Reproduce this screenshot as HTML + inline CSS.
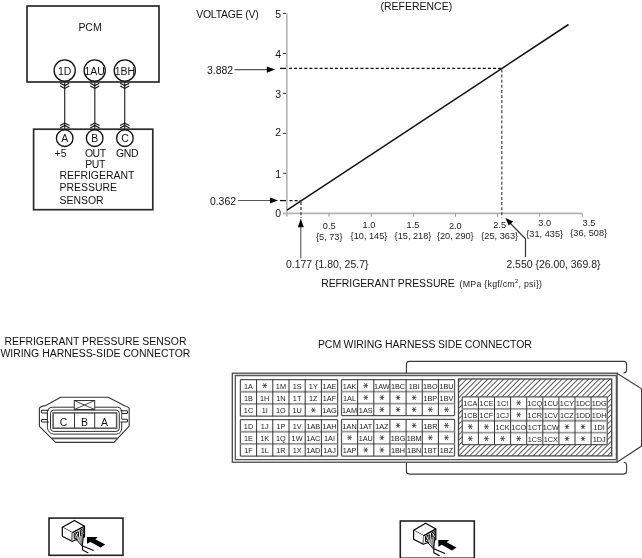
<!DOCTYPE html>
<html><head><meta charset="utf-8"><style>
html,body{margin:0;padding:0;background:#fff;}
svg{display:block;will-change:transform;}
text{font-family:"Liberation Sans",sans-serif;}
</style></head><body>
<svg width="642" height="558" viewBox="0 0 642 558">
<rect x="27" y="6" width="132" height="76" fill="none" stroke="#2b2b2b" stroke-width="1.7"/>
<text x="90" y="30.7" text-anchor="middle" font-size="10.45" fill="#111" >PCM</text>
<line x1="64.7" y1="82" x2="64.7" y2="129" stroke="#2b2b2b" stroke-width="1.2"/>
<polyline points="60.2,83.2 64.7,85.60000000000001 69.2,83.2" fill="none" stroke="#111" stroke-width="1.1"/>
<polyline points="60.2,86.0 64.7,88.4 69.2,86.0" fill="none" stroke="#111" stroke-width="1.1"/>
<polyline points="60.1,125.6 64.7,123.1 69.5,125.6" fill="none" stroke="#111" stroke-width="1.1"/>
<polyline points="60.1,127.9 64.7,125.4 69.5,127.9" fill="none" stroke="#111" stroke-width="1.1"/>
<line x1="94.8" y1="82" x2="94.8" y2="129" stroke="#2b2b2b" stroke-width="1.2"/>
<polyline points="90.3,83.2 94.8,85.60000000000001 99.3,83.2" fill="none" stroke="#111" stroke-width="1.1"/>
<polyline points="90.3,86.0 94.8,88.4 99.3,86.0" fill="none" stroke="#111" stroke-width="1.1"/>
<polyline points="90.2,125.6 94.8,123.1 99.6,125.6" fill="none" stroke="#111" stroke-width="1.1"/>
<polyline points="90.2,127.9 94.8,125.4 99.6,127.9" fill="none" stroke="#111" stroke-width="1.1"/>
<line x1="124.7" y1="82" x2="124.7" y2="129" stroke="#2b2b2b" stroke-width="1.2"/>
<polyline points="120.2,83.2 124.7,85.60000000000001 129.2,83.2" fill="none" stroke="#111" stroke-width="1.1"/>
<polyline points="120.2,86.0 124.7,88.4 129.2,86.0" fill="none" stroke="#111" stroke-width="1.1"/>
<polyline points="120.10000000000001,125.6 124.7,123.1 129.5,125.6" fill="none" stroke="#111" stroke-width="1.1"/>
<polyline points="120.10000000000001,127.9 124.7,125.4 129.5,127.9" fill="none" stroke="#111" stroke-width="1.1"/>
<circle cx="64.7" cy="70.5" r="10.6" fill="#fff" stroke="#111" stroke-width="1.3"/>
<text x="64.7" y="74.6" text-anchor="middle" font-size="10.45" fill="#111" >1D</text>
<circle cx="94.7" cy="70.5" r="10.6" fill="#fff" stroke="#111" stroke-width="1.3"/>
<text x="94.7" y="74.6" text-anchor="middle" font-size="10.45" fill="#111" >1AU</text>
<circle cx="124.8" cy="70.5" r="10.6" fill="#fff" stroke="#111" stroke-width="1.3"/>
<text x="124.8" y="74.6" text-anchor="middle" font-size="10.45" fill="#111" >1BH</text>
<rect x="33.6" y="129.2" width="119.2" height="80.5" fill="none" stroke="#2b2b2b" stroke-width="1.7"/>
<circle cx="64.7" cy="138.2" r="8.3" fill="#fff" stroke="#111" stroke-width="1.3"/>
<text x="64.7" y="141.8" text-anchor="middle" font-size="10.45" fill="#111" >A</text>
<circle cx="94.7" cy="138.2" r="8.3" fill="#fff" stroke="#111" stroke-width="1.3"/>
<text x="94.7" y="141.8" text-anchor="middle" font-size="10.45" fill="#111" >B</text>
<circle cx="124.9" cy="138.2" r="8.3" fill="#fff" stroke="#111" stroke-width="1.3"/>
<text x="124.9" y="141.8" text-anchor="middle" font-size="10.45" fill="#111" >C</text>
<text x="54.6" y="156.6" text-anchor="start" font-size="10.45" fill="#111" >+5</text>
<text x="84.9" y="157.3" text-anchor="start" font-size="10.45" fill="#111" letter-spacing="-0.45">OUT</text>
<text x="85.3" y="168.3" text-anchor="start" font-size="10.45" fill="#111" letter-spacing="-0.45">PUT</text>
<text x="116.0" y="157.0" text-anchor="start" font-size="10.45" fill="#111" letter-spacing="-0.3">GND</text>
<text x="59.5" y="178.7" text-anchor="start" font-size="10.45" fill="#111" >REFRIGERANT</text>
<text x="59.5" y="191.3" text-anchor="start" font-size="10.45" fill="#111" >PRESSURE</text>
<text x="59.5" y="204.0" text-anchor="start" font-size="10.45" fill="#111" >SENSOR</text>
<text x="196.2" y="17.9" text-anchor="start" font-size="10.45" fill="#111" letter-spacing="-0.2">VOLTAGE (V)</text>
<text x="380.5" y="9.7" text-anchor="start" font-size="10.45" fill="#111" letter-spacing="0.03">(REFERENCE)</text>
<line x1="286.8" y1="13.4" x2="286.8" y2="216.6" stroke="#b4b4b4" stroke-width="1.7"/>
<line x1="283" y1="213.3" x2="582.5" y2="213.3" stroke="#b4b4b4" stroke-width="1.7"/>
<line x1="282.8" y1="13.4" x2="286" y2="13.4" stroke="#333" stroke-width="1"/>
<text x="281" y="17.6" text-anchor="end" font-size="10.45" fill="#111" >5</text>
<line x1="282.8" y1="53.5" x2="286" y2="53.5" stroke="#333" stroke-width="1"/>
<text x="281" y="57.7" text-anchor="end" font-size="10.45" fill="#111" >4</text>
<line x1="282.8" y1="93.4" x2="286" y2="93.4" stroke="#333" stroke-width="1"/>
<text x="281" y="97.60000000000001" text-anchor="end" font-size="10.45" fill="#111" >3</text>
<line x1="282.8" y1="133.4" x2="286" y2="133.4" stroke="#333" stroke-width="1"/>
<text x="281" y="136.0" text-anchor="end" font-size="10.45" fill="#111" >2</text>
<line x1="282.8" y1="173.3" x2="286" y2="173.3" stroke="#333" stroke-width="1"/>
<text x="281" y="177.5" text-anchor="end" font-size="10.45" fill="#111" >1</text>
<text x="281" y="216.8" text-anchor="end" font-size="10.45" fill="#111" >0</text>
<line x1="329" y1="213.3" x2="329" y2="216.8" stroke="#999" stroke-width="1"/>
<line x1="371.3" y1="213.3" x2="371.3" y2="216.8" stroke="#999" stroke-width="1"/>
<line x1="413.5" y1="213.3" x2="413.5" y2="216.8" stroke="#999" stroke-width="1"/>
<line x1="455.5" y1="213.3" x2="455.5" y2="216.8" stroke="#999" stroke-width="1"/>
<line x1="497.5" y1="213.3" x2="497.5" y2="216.8" stroke="#999" stroke-width="1"/>
<line x1="539.8" y1="213.3" x2="539.8" y2="216.8" stroke="#999" stroke-width="1"/>
<line x1="582.3" y1="213.3" x2="582.3" y2="216.8" stroke="#999" stroke-width="1"/>
<text x="329.2" y="228.7" text-anchor="middle" font-size="9.2" fill="#222" >0.5</text>
<text x="329.2" y="239.7" text-anchor="middle" font-size="9.2" fill="#222" >{5, 73}</text>
<text x="369" y="228.4" text-anchor="middle" font-size="9.2" fill="#222" >1.0</text>
<text x="369" y="239.2" text-anchor="middle" font-size="9.2" fill="#222" >{10, 145}</text>
<text x="413" y="228.3" text-anchor="middle" font-size="9.2" fill="#222" >1.5</text>
<text x="413" y="239.2" text-anchor="middle" font-size="9.2" fill="#222" >{15, 218}</text>
<text x="455.3" y="228.5" text-anchor="middle" font-size="9.2" fill="#222" >2.0</text>
<text x="455.3" y="239.2" text-anchor="middle" font-size="9.2" fill="#222" >{20, 290}</text>
<text x="499.7" y="228.2" text-anchor="middle" font-size="9.2" fill="#222" >2.5</text>
<text x="499.7" y="239.0" text-anchor="middle" font-size="9.2" fill="#222" >{25, 363}</text>
<text x="544.7" y="226.2" text-anchor="middle" font-size="9.2" fill="#222" >3.0</text>
<text x="544.7" y="236.6" text-anchor="middle" font-size="9.2" fill="#222" >{31, 435}</text>
<text x="589" y="225.6" text-anchor="middle" font-size="9.2" fill="#222" >3.5</text>
<text x="588.7" y="236.2" text-anchor="middle" font-size="9.2" fill="#222" >{36, 508}</text>
<line x1="287" y1="210.1" x2="568.5" y2="24.5" stroke="#111" stroke-width="1.5"/>
<line x1="280" y1="68.4" x2="286" y2="68.4" stroke="#111" stroke-width="1.3"/>
<line x1="289" y1="68.4" x2="501" y2="68.4" stroke="#111" stroke-width="1.2" stroke-dasharray="3,2.1"/>
<line x1="501.8" y1="69.5" x2="501.8" y2="218" stroke="#444" stroke-width="1.2" stroke-dasharray="3,2.1"/>
<line x1="280" y1="200.6" x2="286" y2="200.6" stroke="#111" stroke-width="1.3"/>
<line x1="289.5" y1="200.6" x2="300.5" y2="200.6" stroke="#111" stroke-width="1.2" stroke-dasharray="3,2.1"/>
<line x1="301" y1="202" x2="301" y2="218" stroke="#333" stroke-width="1.2" stroke-dasharray="3,2.1"/>
<text x="233.1" y="73.7" text-anchor="end" font-size="10.45" fill="#111" >3.882</text>
<line x1="234.6" y1="69.6" x2="268" y2="69.6" stroke="#555" stroke-width="1.1"/>
<polygon points="266.8,66.6 275.2,69.6 266.8,72.7" fill="#000"/>
<text x="236" y="204.6" text-anchor="end" font-size="10.45" fill="#111" >0.362</text>
<line x1="238" y1="200.5" x2="271" y2="200.5" stroke="#555" stroke-width="1.1"/>
<polygon points="270,197.5 278,200.5 270,203.5" fill="#000"/>
<line x1="300.8" y1="226" x2="300.8" y2="258.6" stroke="#555" stroke-width="1.1"/>
<polygon points="300.8,218.6 303.8,227.2 297.8,227.2" fill="#000"/>
<text x="286" y="268.3" text-anchor="start" font-size="10.45" fill="#222" >0.177 {1.80, 25.7}</text>
<polyline points="525.5,257 525.5,238.8 509,222" fill="none" stroke="#333" stroke-width="1.2"/>
<polygon points="505.5,218.1 513.2,221.4 508.6,225.6" fill="#000"/>
<text x="506.4" y="267.9" text-anchor="start" font-size="10.45" fill="#222" >2.550 {26.00, 369.8}</text>
<text x="321.2" y="286.8" text-anchor="start" font-size="10.45" fill="#111" letter-spacing="-0.07">REFRIGERANT PRESSURE</text>
<text x="459.6" y="286.6" font-size="8.8" letter-spacing="0.25" fill="#222">(MPa {kgf/cm<tspan font-size="6" dy="-3.5">2</tspan><tspan dy="3.5">, psi})</tspan></text>
<text x="95.5" y="345.0" text-anchor="middle" font-size="10.45" fill="#111" >REFRIGERANT PRESSURE SENSOR</text>
<text x="95.4" y="356.8" text-anchor="middle" font-size="10.45" fill="#111" >WIRING HARNESS-SIDE CONNECTOR</text>
<text x="317.9" y="348.3" text-anchor="start" font-size="10.45" fill="#111" word-spacing="-0.4">PCM WIRING HARNESS SIDE CONNECTOR</text>
<path d="M60.6,397.2 L108.2,397.2 L124.6,405.8 Q127.5,406.4 129.2,408.2 L129.2,426.2 L114,442.4 L55.6,442.4 L39.4,426.4 L39.4,408.2 Q40.6,406 45.8,405.6 Z" fill="#fff" stroke="#333" stroke-width="1.1" stroke-linejoin="round"/>
<path d="M47.4,413 L47.4,410.6 Q48.5,407.3 52.3,407.2 L117.6,407.2 Q121.2,407.3 121.7,410.8 L121.7,413.4" fill="none" stroke="#333" stroke-width="1"/>
<path d="M47.4,419.4 L47.4,427.8 Q48.5,433.6 53.5,434.1 L116.4,434.1 Q121.2,433.6 121.7,428.8 L121.7,421.9" fill="none" stroke="#333" stroke-width="1"/>
<path d="M48.9,410.3 L42.2,410.3 Q41.3,410.3 41.3,411.6 Q41.3,412.9 42.2,412.9 L47.4,412.9" fill="none" stroke="#222" stroke-width="1.05"/>
<path d="M47.4,419.4 L42.2,419.4 Q41.3,419.4 41.3,420.7 Q41.3,422 42.2,422 L48.9,422" fill="none" stroke="#222" stroke-width="1.05"/>
<line x1="47.4" y1="412.9" x2="47.4" y2="419.4" stroke="#222" stroke-width="1.05"/>
<path d="M120.4,410.7 L126.8,410.7 Q127.6,410.7 127.6,412 Q127.6,413.4 126.8,413.4 L121.7,413.4" fill="none" stroke="#222" stroke-width="1.05"/>
<path d="M121.7,419.2 L126.8,419.2 Q127.6,419.2 127.6,420.5 Q127.6,421.9 126.8,421.9 L120.4,421.9" fill="none" stroke="#222" stroke-width="1.05"/>
<line x1="121.7" y1="413.4" x2="121.7" y2="419.2" stroke="#333" stroke-width="0.9"/>
<line x1="51.8" y1="438.4" x2="117.8" y2="438.4" stroke="#555" stroke-width="1.6"/>
<rect x="50.5" y="410.1" width="68.8" height="21.3" rx="3.2" fill="#fff" stroke="#333" stroke-width="1"/>
<rect x="53.1" y="412.9" width="63.5" height="15.3" fill="#fff" stroke="#555" stroke-width="1.5"/>
<line x1="74.5" y1="413" x2="74.5" y2="428.2" stroke="#333" stroke-width="1"/>
<line x1="94.7" y1="413" x2="94.7" y2="428.2" stroke="#333" stroke-width="1"/>
<rect x="74.3" y="400.5" width="20.4" height="9" fill="#fff" stroke="#333" stroke-width="1"/>
<path d="M74.3,400.5 L94.7,409.5 M94.7,400.5 L74.3,409.5" stroke="#333" stroke-width="0.9"/>
<text x="63.4" y="426.0" text-anchor="middle" font-size="10.45" fill="#111" >C</text>
<text x="84.4" y="426.0" text-anchor="middle" font-size="10.45" fill="#111" >B</text>
<text x="104.6" y="426.0" text-anchor="middle" font-size="10.45" fill="#111" >A</text>
<path d="M406.4,372.9 L406.4,364.4 Q406.4,361.4 409.4,361.4 L623.6,361.4 Q626.6,361.4 626.6,364.4 L626.6,370 Q626.6,372.9 623.6,372.9" fill="#fff" stroke="#3a3a3a" stroke-width="1.1"/>
<path d="M406.4,462.3 L406.4,471.1 Q406.4,474.1 409.4,474.1 L623.6,474.1 Q626.6,474.1 626.6,471.1 L626.6,465.3 Q626.6,462.3 623.6,462.3" fill="#fff" stroke="#3a3a3a" stroke-width="1.1"/>
<path d="M617,373.3 L641.6,388.8 L641.6,446 L617,462.2" fill="#fff" stroke="#3a3a3a" stroke-width="1.1"/>
<rect x="232.3" y="373.2" width="384.8" height="89" fill="#fff" stroke="#3a3a3a" stroke-width="1.2"/>
<path d="M616.3,375.5 L235.3,375.5 L235.3,459.6 L616.3,459.6" fill="none" stroke="#555" stroke-width="1.3"/>
<line x1="616.3" y1="375.5" x2="616.3" y2="459.6" stroke="#444" stroke-width="1.1"/>
<rect x="240.4" y="379.5" width="97.20" height="36.69" fill="#fff" stroke="#555" stroke-width="1.25" rx="0.8"/>
<line x1="240.4" y1="391.73" x2="337.60" y2="391.73" stroke="#999" stroke-width="1.8"/>
<line x1="240.4" y1="403.96" x2="337.60" y2="403.96" stroke="#999" stroke-width="1.8"/>
<line x1="256.60" y1="379.5" x2="256.60" y2="416.19" stroke="#333" stroke-width="1"/>
<line x1="272.80" y1="379.5" x2="272.80" y2="416.19" stroke="#333" stroke-width="1"/>
<line x1="289.00" y1="379.5" x2="289.00" y2="416.19" stroke="#333" stroke-width="1"/>
<line x1="305.20" y1="379.5" x2="305.20" y2="416.19" stroke="#333" stroke-width="1"/>
<line x1="321.40" y1="379.5" x2="321.40" y2="416.19" stroke="#333" stroke-width="1"/>
<text x="248.50" y="388.72" text-anchor="middle" font-size="7.3" fill="#222">1A</text>
<path d="M262.40,385.62 L267.00,385.62 M263.40,383.22 L266.00,388.01 M266.00,383.22 L263.40,388.01" stroke="#333" stroke-width="0.8" fill="none"/>
<text x="280.90" y="388.72" text-anchor="middle" font-size="7.3" fill="#222">1M</text>
<text x="297.10" y="388.72" text-anchor="middle" font-size="7.3" fill="#222">1S</text>
<text x="313.30" y="388.72" text-anchor="middle" font-size="7.3" fill="#222">1Y</text>
<text x="329.50" y="388.72" text-anchor="middle" font-size="7.3" fill="#222">1AE</text>
<text x="248.50" y="400.95" text-anchor="middle" font-size="7.3" fill="#222">1B</text>
<text x="264.70" y="400.95" text-anchor="middle" font-size="7.3" fill="#222">1H</text>
<text x="280.90" y="400.95" text-anchor="middle" font-size="7.3" fill="#222">1N</text>
<text x="297.10" y="400.95" text-anchor="middle" font-size="7.3" fill="#222">1T</text>
<text x="313.30" y="400.95" text-anchor="middle" font-size="7.3" fill="#222">1Z</text>
<text x="329.50" y="400.95" text-anchor="middle" font-size="7.3" fill="#222">1AF</text>
<text x="248.50" y="413.18" text-anchor="middle" font-size="7.3" fill="#222">1C</text>
<text x="264.70" y="413.18" text-anchor="middle" font-size="7.3" fill="#222">1I</text>
<text x="280.90" y="413.18" text-anchor="middle" font-size="7.3" fill="#222">1O</text>
<text x="297.10" y="413.18" text-anchor="middle" font-size="7.3" fill="#222">1U</text>
<path d="M311.00,410.07 L315.60,410.07 M312.00,407.68 L314.60,412.47 M314.60,407.68 L312.00,412.47" stroke="#333" stroke-width="0.8" fill="none"/>
<text x="329.50" y="413.18" text-anchor="middle" font-size="7.3" fill="#222">1AG</text>
<rect x="240.4" y="419.5" width="97.20" height="36.69" fill="#fff" stroke="#555" stroke-width="1.25" rx="0.8"/>
<line x1="240.4" y1="431.73" x2="337.60" y2="431.73" stroke="#999" stroke-width="1.8"/>
<line x1="240.4" y1="443.96" x2="337.60" y2="443.96" stroke="#999" stroke-width="1.8"/>
<line x1="256.60" y1="419.5" x2="256.60" y2="456.19" stroke="#333" stroke-width="1"/>
<line x1="272.80" y1="419.5" x2="272.80" y2="456.19" stroke="#333" stroke-width="1"/>
<line x1="289.00" y1="419.5" x2="289.00" y2="456.19" stroke="#333" stroke-width="1"/>
<line x1="305.20" y1="419.5" x2="305.20" y2="456.19" stroke="#333" stroke-width="1"/>
<line x1="321.40" y1="419.5" x2="321.40" y2="456.19" stroke="#333" stroke-width="1"/>
<text x="248.50" y="428.72" text-anchor="middle" font-size="7.3" fill="#222">1D</text>
<text x="264.70" y="428.72" text-anchor="middle" font-size="7.3" fill="#222">1J</text>
<text x="280.90" y="428.72" text-anchor="middle" font-size="7.3" fill="#222">1P</text>
<text x="297.10" y="428.72" text-anchor="middle" font-size="7.3" fill="#222">1V</text>
<text x="313.30" y="428.72" text-anchor="middle" font-size="7.3" fill="#222">1AB</text>
<text x="329.50" y="428.72" text-anchor="middle" font-size="7.3" fill="#222">1AH</text>
<text x="248.50" y="440.95" text-anchor="middle" font-size="7.3" fill="#222">1E</text>
<text x="264.70" y="440.95" text-anchor="middle" font-size="7.3" fill="#222">1K</text>
<text x="280.90" y="440.95" text-anchor="middle" font-size="7.3" fill="#222">1Q</text>
<text x="297.10" y="440.95" text-anchor="middle" font-size="7.3" fill="#222">1W</text>
<text x="313.30" y="440.95" text-anchor="middle" font-size="7.3" fill="#222">1AC</text>
<text x="329.50" y="440.95" text-anchor="middle" font-size="7.3" fill="#222">1AI</text>
<text x="248.50" y="453.18" text-anchor="middle" font-size="7.3" fill="#222">1F</text>
<text x="264.70" y="453.18" text-anchor="middle" font-size="7.3" fill="#222">1L</text>
<text x="280.90" y="453.18" text-anchor="middle" font-size="7.3" fill="#222">1R</text>
<text x="297.10" y="453.18" text-anchor="middle" font-size="7.3" fill="#222">1X</text>
<text x="313.30" y="453.18" text-anchor="middle" font-size="7.3" fill="#222">1AD</text>
<text x="329.50" y="453.18" text-anchor="middle" font-size="7.3" fill="#222">1AJ</text>
<rect x="341.5" y="379.5" width="113.05" height="36.15" fill="#fff" stroke="#555" stroke-width="1.25" rx="0.8"/>
<line x1="341.5" y1="391.55" x2="454.55" y2="391.55" stroke="#999" stroke-width="1.8"/>
<line x1="341.5" y1="403.60" x2="454.55" y2="403.60" stroke="#999" stroke-width="1.8"/>
<line x1="357.65" y1="379.5" x2="357.65" y2="415.65" stroke="#333" stroke-width="1"/>
<line x1="373.80" y1="379.5" x2="373.80" y2="415.65" stroke="#333" stroke-width="1"/>
<line x1="389.95" y1="379.5" x2="389.95" y2="415.65" stroke="#333" stroke-width="1"/>
<line x1="406.10" y1="379.5" x2="406.10" y2="415.65" stroke="#333" stroke-width="1"/>
<line x1="422.25" y1="379.5" x2="422.25" y2="415.65" stroke="#333" stroke-width="1"/>
<line x1="438.40" y1="379.5" x2="438.40" y2="415.65" stroke="#333" stroke-width="1"/>
<text x="349.57" y="388.62" text-anchor="middle" font-size="7.3" fill="#222">1AK</text>
<path d="M363.43,385.52 L368.03,385.52 M364.43,383.12 L367.03,387.92 M367.03,383.12 L364.43,387.92" stroke="#333" stroke-width="0.8" fill="none"/>
<text x="381.88" y="388.62" text-anchor="middle" font-size="7.3" fill="#222">1AW</text>
<text x="398.02" y="388.62" text-anchor="middle" font-size="7.3" fill="#222">1BC</text>
<text x="414.18" y="388.62" text-anchor="middle" font-size="7.3" fill="#222">1BI</text>
<text x="430.32" y="388.62" text-anchor="middle" font-size="7.3" fill="#222">1BO</text>
<text x="446.48" y="388.62" text-anchor="middle" font-size="7.3" fill="#222">1BU</text>
<text x="349.57" y="400.68" text-anchor="middle" font-size="7.3" fill="#222">1AL</text>
<path d="M363.43,397.57 L368.03,397.57 M364.43,395.18 L367.03,399.97 M367.03,395.18 L364.43,399.97" stroke="#333" stroke-width="0.8" fill="none"/>
<path d="M379.57,397.57 L384.18,397.57 M380.57,395.18 L383.18,399.97 M383.18,395.18 L380.57,399.97" stroke="#333" stroke-width="0.8" fill="none"/>
<path d="M395.72,397.57 L400.32,397.57 M396.72,395.18 L399.32,399.97 M399.32,395.18 L396.72,399.97" stroke="#333" stroke-width="0.8" fill="none"/>
<path d="M411.88,397.57 L416.48,397.57 M412.88,395.18 L415.48,399.97 M415.48,395.18 L412.88,399.97" stroke="#333" stroke-width="0.8" fill="none"/>
<text x="430.32" y="400.68" text-anchor="middle" font-size="7.3" fill="#222">1BP</text>
<text x="446.48" y="400.68" text-anchor="middle" font-size="7.3" fill="#222">1BV</text>
<text x="349.57" y="412.73" text-anchor="middle" font-size="7.3" fill="#222">1AM</text>
<text x="365.73" y="412.73" text-anchor="middle" font-size="7.3" fill="#222">1AS</text>
<path d="M379.57,409.62 L384.18,409.62 M380.57,407.23 L383.18,412.02 M383.18,407.23 L380.57,412.02" stroke="#333" stroke-width="0.8" fill="none"/>
<path d="M395.72,409.62 L400.32,409.62 M396.72,407.23 L399.32,412.02 M399.32,407.23 L396.72,412.02" stroke="#333" stroke-width="0.8" fill="none"/>
<path d="M411.88,409.62 L416.48,409.62 M412.88,407.23 L415.48,412.02 M415.48,407.23 L412.88,412.02" stroke="#333" stroke-width="0.8" fill="none"/>
<path d="M428.02,409.62 L432.62,409.62 M429.02,407.23 L431.62,412.02 M431.62,407.23 L429.02,412.02" stroke="#333" stroke-width="0.8" fill="none"/>
<path d="M444.18,409.62 L448.78,409.62 M445.18,407.23 L447.78,412.02 M447.78,407.23 L445.18,412.02" stroke="#333" stroke-width="0.8" fill="none"/>
<rect x="341.5" y="419.3" width="113.05" height="36.81" fill="#fff" stroke="#555" stroke-width="1.25" rx="0.8"/>
<line x1="341.5" y1="431.57" x2="454.55" y2="431.57" stroke="#999" stroke-width="1.8"/>
<line x1="341.5" y1="443.84" x2="454.55" y2="443.84" stroke="#999" stroke-width="1.8"/>
<line x1="357.65" y1="419.3" x2="357.65" y2="456.11" stroke="#333" stroke-width="1"/>
<line x1="373.80" y1="419.3" x2="373.80" y2="456.11" stroke="#333" stroke-width="1"/>
<line x1="389.95" y1="419.3" x2="389.95" y2="456.11" stroke="#333" stroke-width="1"/>
<line x1="406.10" y1="419.3" x2="406.10" y2="456.11" stroke="#333" stroke-width="1"/>
<line x1="422.25" y1="419.3" x2="422.25" y2="456.11" stroke="#333" stroke-width="1"/>
<line x1="438.40" y1="419.3" x2="438.40" y2="456.11" stroke="#333" stroke-width="1"/>
<text x="349.57" y="428.54" text-anchor="middle" font-size="7.3" fill="#222">1AN</text>
<text x="365.73" y="428.54" text-anchor="middle" font-size="7.3" fill="#222">1AT</text>
<text x="381.88" y="428.54" text-anchor="middle" font-size="7.3" fill="#222">1AZ</text>
<path d="M395.72,425.44 L400.32,425.44 M396.72,423.04 L399.32,427.83 M399.32,423.04 L396.72,427.83" stroke="#333" stroke-width="0.8" fill="none"/>
<path d="M411.88,425.44 L416.48,425.44 M412.88,423.04 L415.48,427.83 M415.48,423.04 L412.88,427.83" stroke="#333" stroke-width="0.8" fill="none"/>
<text x="430.32" y="428.54" text-anchor="middle" font-size="7.3" fill="#222">1BR</text>
<path d="M444.18,425.44 L448.78,425.44 M445.18,423.04 L447.78,427.83 M447.78,423.04 L445.18,427.83" stroke="#333" stroke-width="0.8" fill="none"/>
<path d="M347.27,437.71 L351.88,437.71 M348.27,435.31 L350.88,440.11 M350.88,435.31 L348.27,440.11" stroke="#333" stroke-width="0.8" fill="none"/>
<text x="365.73" y="440.81" text-anchor="middle" font-size="7.3" fill="#222">1AU</text>
<path d="M379.57,437.71 L384.18,437.71 M380.57,435.31 L383.18,440.11 M383.18,435.31 L380.57,440.11" stroke="#333" stroke-width="0.8" fill="none"/>
<text x="398.02" y="440.81" text-anchor="middle" font-size="7.3" fill="#222">1BG</text>
<text x="414.18" y="440.81" text-anchor="middle" font-size="7.3" fill="#222">1BM</text>
<path d="M428.02,437.71 L432.62,437.71 M429.02,435.31 L431.62,440.11 M431.62,435.31 L429.02,440.11" stroke="#333" stroke-width="0.8" fill="none"/>
<path d="M444.18,437.71 L448.78,437.71 M445.18,435.31 L447.78,440.11 M447.78,435.31 L445.18,440.11" stroke="#333" stroke-width="0.8" fill="none"/>
<text x="349.57" y="453.08" text-anchor="middle" font-size="7.3" fill="#222">1AP</text>
<path d="M363.43,449.98 L368.03,449.98 M364.43,447.58 L367.03,452.38 M367.03,447.58 L364.43,452.38" stroke="#333" stroke-width="0.8" fill="none"/>
<path d="M379.57,449.98 L384.18,449.98 M380.57,447.58 L383.18,452.38 M383.18,447.58 L380.57,452.38" stroke="#333" stroke-width="0.8" fill="none"/>
<text x="398.02" y="453.08" text-anchor="middle" font-size="7.3" fill="#222">1BH</text>
<text x="414.18" y="453.08" text-anchor="middle" font-size="7.3" fill="#222">1BN</text>
<text x="430.32" y="453.08" text-anchor="middle" font-size="7.3" fill="#222">1BT</text>
<text x="446.48" y="453.08" text-anchor="middle" font-size="7.3" fill="#222">1BZ</text>
<defs><pattern id="hatch" patternUnits="userSpaceOnUse" width="3.75" height="3.75" patternTransform="translate(1.9,0) rotate(45)"><rect width="3.75" height="3.75" fill="#fff"/><line x1="0" y1="0" x2="0" y2="3.75" stroke="#111" stroke-width="1.35"/></pattern></defs>
<rect x="458.5" y="379" width="153.2" height="76.9" fill="url(#hatch)" stroke="#444" stroke-width="1.3"/>
<rect x="462.3" y="396.9" width="144.90" height="47.72" fill="#fff" stroke="#555" stroke-width="1.25" rx="0.8"/>
<line x1="462.3" y1="408.83" x2="607.20" y2="408.83" stroke="#999" stroke-width="1.8"/>
<line x1="462.3" y1="420.76" x2="607.20" y2="420.76" stroke="#999" stroke-width="1.8"/>
<line x1="462.3" y1="432.69" x2="607.20" y2="432.69" stroke="#999" stroke-width="1.8"/>
<line x1="478.40" y1="396.9" x2="478.40" y2="444.62" stroke="#333" stroke-width="1"/>
<line x1="494.50" y1="396.9" x2="494.50" y2="444.62" stroke="#333" stroke-width="1"/>
<line x1="510.60" y1="396.9" x2="510.60" y2="444.62" stroke="#333" stroke-width="1"/>
<line x1="526.70" y1="396.9" x2="526.70" y2="444.62" stroke="#333" stroke-width="1"/>
<line x1="542.80" y1="396.9" x2="542.80" y2="444.62" stroke="#333" stroke-width="1"/>
<line x1="558.90" y1="396.9" x2="558.90" y2="444.62" stroke="#333" stroke-width="1"/>
<line x1="575.00" y1="396.9" x2="575.00" y2="444.62" stroke="#333" stroke-width="1"/>
<line x1="591.10" y1="396.9" x2="591.10" y2="444.62" stroke="#333" stroke-width="1"/>
<text x="470.35" y="405.96" text-anchor="middle" font-size="7.3" fill="#222">1CA</text>
<text x="486.45" y="405.96" text-anchor="middle" font-size="7.3" fill="#222">1CE</text>
<text x="502.55" y="405.96" text-anchor="middle" font-size="7.3" fill="#222">1CI</text>
<path d="M516.35,402.86 L520.95,402.86 M517.35,400.46 L519.95,405.26 M519.95,400.46 L517.35,405.26" stroke="#333" stroke-width="0.8" fill="none"/>
<text x="534.75" y="405.96" text-anchor="middle" font-size="7.3" fill="#222">1CQ</text>
<text x="550.85" y="405.96" text-anchor="middle" font-size="7.3" fill="#222">1CU</text>
<text x="566.95" y="405.96" text-anchor="middle" font-size="7.3" fill="#222">1CY</text>
<text x="583.05" y="405.96" text-anchor="middle" font-size="7.3" fill="#222">1DC</text>
<text x="599.15" y="405.96" text-anchor="middle" font-size="7.3" fill="#222">1DG</text>
<text x="470.35" y="417.89" text-anchor="middle" font-size="7.3" fill="#222">1CB</text>
<text x="486.45" y="417.89" text-anchor="middle" font-size="7.3" fill="#222">1CF</text>
<text x="502.55" y="417.89" text-anchor="middle" font-size="7.3" fill="#222">1CJ</text>
<path d="M516.35,414.79 L520.95,414.79 M517.35,412.39 L519.95,417.19 M519.95,412.39 L517.35,417.19" stroke="#333" stroke-width="0.8" fill="none"/>
<text x="534.75" y="417.89" text-anchor="middle" font-size="7.3" fill="#222">1CR</text>
<text x="550.85" y="417.89" text-anchor="middle" font-size="7.3" fill="#222">1CV</text>
<text x="566.95" y="417.89" text-anchor="middle" font-size="7.3" fill="#222">1CZ</text>
<text x="583.05" y="417.89" text-anchor="middle" font-size="7.3" fill="#222">1DD</text>
<text x="599.15" y="417.89" text-anchor="middle" font-size="7.3" fill="#222">1DH</text>
<path d="M468.05,426.72 L472.65,426.72 M469.05,424.32 L471.65,429.12 M471.65,424.32 L469.05,429.12" stroke="#333" stroke-width="0.8" fill="none"/>
<path d="M484.15,426.72 L488.75,426.72 M485.15,424.32 L487.75,429.12 M487.75,424.32 L485.15,429.12" stroke="#333" stroke-width="0.8" fill="none"/>
<text x="502.55" y="429.82" text-anchor="middle" font-size="7.3" fill="#222">1CK</text>
<text x="518.65" y="429.82" text-anchor="middle" font-size="7.3" fill="#222">1CO</text>
<text x="534.75" y="429.82" text-anchor="middle" font-size="7.3" fill="#222">1CT</text>
<text x="550.85" y="429.82" text-anchor="middle" font-size="7.3" fill="#222">1CW</text>
<path d="M564.65,426.72 L569.25,426.72 M565.65,424.32 L568.25,429.12 M568.25,424.32 L565.65,429.12" stroke="#333" stroke-width="0.8" fill="none"/>
<path d="M580.75,426.72 L585.35,426.72 M581.75,424.32 L584.35,429.12 M584.35,424.32 L581.75,429.12" stroke="#333" stroke-width="0.8" fill="none"/>
<text x="599.15" y="429.82" text-anchor="middle" font-size="7.3" fill="#222">1DI</text>
<path d="M468.05,438.65 L472.65,438.65 M469.05,436.25 L471.65,441.05 M471.65,436.25 L469.05,441.05" stroke="#333" stroke-width="0.8" fill="none"/>
<path d="M484.15,438.65 L488.75,438.65 M485.15,436.25 L487.75,441.05 M487.75,436.25 L485.15,441.05" stroke="#333" stroke-width="0.8" fill="none"/>
<path d="M500.25,438.65 L504.85,438.65 M501.25,436.25 L503.85,441.05 M503.85,436.25 L501.25,441.05" stroke="#333" stroke-width="0.8" fill="none"/>
<path d="M516.35,438.65 L520.95,438.65 M517.35,436.25 L519.95,441.05 M519.95,436.25 L517.35,441.05" stroke="#333" stroke-width="0.8" fill="none"/>
<text x="534.75" y="441.75" text-anchor="middle" font-size="7.3" fill="#222">1CS</text>
<text x="550.85" y="441.75" text-anchor="middle" font-size="7.3" fill="#222">1CX</text>
<path d="M564.65,438.65 L569.25,438.65 M565.65,436.25 L568.25,441.05 M568.25,436.25 L565.65,441.05" stroke="#333" stroke-width="0.8" fill="none"/>
<path d="M580.75,438.65 L585.35,438.65 M581.75,436.25 L584.35,441.05 M584.35,436.25 L581.75,441.05" stroke="#333" stroke-width="0.8" fill="none"/>
<text x="599.15" y="441.75" text-anchor="middle" font-size="7.3" fill="#222">1DJ</text>
<g transform="translate(49,518.1)">
<rect x="0" y="0" width="74" height="37.2" fill="#fff" stroke="#222" stroke-width="1.6"/>
<path d="M25.4,2.3 L13.3,9.2 L23.4,14.7 L35.5,8.1 Z" fill="#fff" stroke="#000" stroke-width="1.2" stroke-linejoin="round"/>
<path d="M13.3,9.2 L13.3,18.2 L23,23.2 L23.4,14.7" fill="#fff" stroke="#000" stroke-width="1.2" stroke-linejoin="round"/>
<path d="M23.4,14.7 L35.5,8.1 L35.5,18.8 L23,23.2" fill="#fff" stroke="#000" stroke-width="1.2" stroke-linejoin="round"/>
<line x1="23.2" y1="15.2" x2="23" y2="22.8" stroke="#888" stroke-width="1.3"/>
<path d="M25.1,15.5 L29.4,13.6 L29.6,19.3 L25.3,20.8 Z" fill="#fff" stroke="#000" stroke-width="1"/>
<path d="M31.2,12 L34.7,10.4 L35,16.2 L31.5,17.7 Z" fill="#fff" stroke="#000" stroke-width="1"/>
<ellipse cx="27.3" cy="17.3" rx="1.1" ry="1.9" transform="rotate(20 27.3 17.3)" fill="none" stroke="#000" stroke-width="0.8"/>
<ellipse cx="33" cy="14" rx="1.0" ry="1.8" transform="rotate(20 33 14)" fill="none" stroke="#000" stroke-width="0.8"/>
<path d="M27.5,19.5 L32.8,27.6 L34.5,16.8 Z" fill="#bbb" stroke="none"/>
<path d="M29.5,18.5 L33,27.6 M31.8,17.5 L33.3,27.6 M33.5,16.8 L33.6,27.6" stroke="#777" stroke-width="0.8" fill="none"/>
<path d="M26.2,20.2 L33,27.8 M34.6,16.5 L33.3,27.8" stroke="#000" stroke-width="1" fill="none"/>
<path d="M33,27.6 L44.7,32.5 M33.4,28 L33.6,31.8 L39.3,34.8" stroke="#000" stroke-width="1.1" fill="none"/>
<path d="M38,18.9 L48.8,18.9 L46.4,21.2 L56.2,26.4 L51.6,29.5 L41.5,23.8 L38,25.7 Z" fill="#000"/>
</g>
<g transform="translate(400.3,521)">
<rect x="0" y="0" width="74" height="37.2" fill="#fff" stroke="#222" stroke-width="1.6"/>
<path d="M25.4,2.3 L13.3,9.2 L23.4,14.7 L35.5,8.1 Z" fill="#fff" stroke="#000" stroke-width="1.2" stroke-linejoin="round"/>
<path d="M13.3,9.2 L13.3,18.2 L23,23.2 L23.4,14.7" fill="#fff" stroke="#000" stroke-width="1.2" stroke-linejoin="round"/>
<path d="M23.4,14.7 L35.5,8.1 L35.5,18.8 L23,23.2" fill="#fff" stroke="#000" stroke-width="1.2" stroke-linejoin="round"/>
<line x1="23.2" y1="15.2" x2="23" y2="22.8" stroke="#888" stroke-width="1.3"/>
<path d="M25.1,15.5 L29.4,13.6 L29.6,19.3 L25.3,20.8 Z" fill="#fff" stroke="#000" stroke-width="1"/>
<path d="M31.2,12 L34.7,10.4 L35,16.2 L31.5,17.7 Z" fill="#fff" stroke="#000" stroke-width="1"/>
<ellipse cx="27.3" cy="17.3" rx="1.1" ry="1.9" transform="rotate(20 27.3 17.3)" fill="none" stroke="#000" stroke-width="0.8"/>
<ellipse cx="33" cy="14" rx="1.0" ry="1.8" transform="rotate(20 33 14)" fill="none" stroke="#000" stroke-width="0.8"/>
<path d="M27.5,19.5 L32.8,27.6 L34.5,16.8 Z" fill="#bbb" stroke="none"/>
<path d="M29.5,18.5 L33,27.6 M31.8,17.5 L33.3,27.6 M33.5,16.8 L33.6,27.6" stroke="#777" stroke-width="0.8" fill="none"/>
<path d="M26.2,20.2 L33,27.8 M34.6,16.5 L33.3,27.8" stroke="#000" stroke-width="1" fill="none"/>
<path d="M33,27.6 L44.7,32.5 M33.4,28 L33.6,31.8 L39.3,34.8" stroke="#000" stroke-width="1.1" fill="none"/>
<path d="M38,18.9 L48.8,18.9 L46.4,21.2 L56.2,26.4 L51.6,29.5 L41.5,23.8 L38,25.7 Z" fill="#000"/>
</g>
</svg>
</body></html>
